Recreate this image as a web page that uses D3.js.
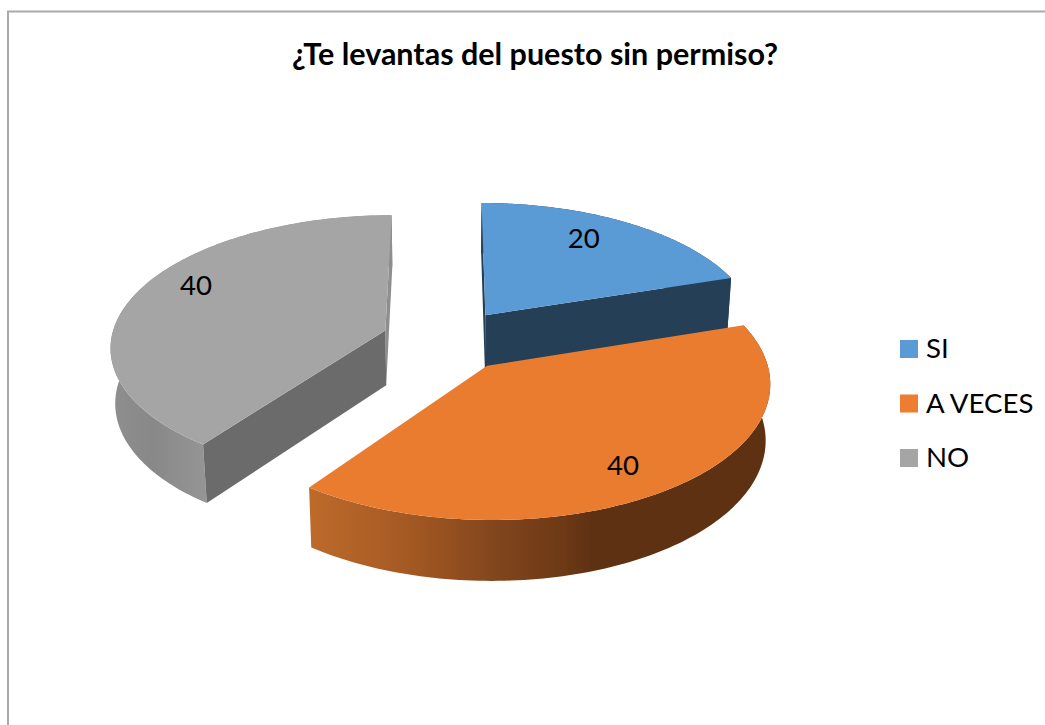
<!DOCTYPE html>
<html><head><meta charset="utf-8">
<style>html,body{margin:0;padding:0;background:#fff;overflow:hidden}svg{display:block}text{font-family:Lato,"Open Sans",sans-serif;fill:#000}</style>
<script src="https://cdn.jsdelivr.net/npm/d3@7"></script>
</head><body><svg id="c" width="1045" height="725"></svg>
<script>
const chartTitle = "¿Te levantas del puesto sin permiso?";
const categories = ["SI", "A VECES", "NO"];
const values = [20, 40, 40];
const topColors = ["#5b9bd5", "#ea7c30", "#a5a5a5"];
const legendColors = ["#5b9bd5", "#ed7d31", "#a5a5a5"];
const faceColors = ["#253f57", "#5f3113", "#6b6b6b"];
const backFaceColors = ["#253f57", "#5f3113", "#8e8e8e"];

const W = 1045, H = 725;
const svg = d3.select("#c");
const defs = svg.append("defs");

// frame
svg.append("path").attr("d", `M8 ${H}V11.5H${W}`).attr("fill","none").attr("stroke","#aaa").attr("stroke-width",2);

// title
svg.append("text").attr("x",535).attr("y",65).attr("text-anchor","middle")
  .attr("font-size",30.5).attr("font-weight",700).text(chartTitle);

// 3D projection of the pie disc (unit radius, z 0 top .. 1 bottom)
const cx = 447.5, cy = 340, A = 274.5, B = 130.3, K = 0.1136, M = 0.014, D = 56, explode = 0.24;
function project(x, y, z) {
  const s = 1 / (1 + K * y + M * z);
  return [cx + A * x * s, cy + (-B * y + D * z) * s];
}
const pie = d3.pie().sort(null).startAngle(0).endAngle(2 * Math.PI);
const arcs = pie(values);
const line = d3.line();

const gradients = [
  null,
  {id:"gOrange", x1:311, x2:771, stops:[[0,"#bd6a2b"],[0.2,"#a65a23"],[0.41,"#80451c"],[0.55,"#6d3916"],[0.61,"#5f3113"],[1,"#5f3113"]]},
  {id:"gGray", x1:110, x2:205, stops:[[0,"#8f8f8f"],[0.45,"#888"],[1,"#959595"]]}
];
gradients.forEach(g => {
  if (!g) return;
  const lg = defs.append("linearGradient").attr("id",g.id).attr("gradientUnits","userSpaceOnUse")
    .attr("x1",g.x1).attr("x2",g.x2).attr("y1",0).attr("y2",0);
  g.stops.forEach(s => lg.append("stop").attr("offset",s[0]).attr("stop-color",s[1]));
});

// draw back to front; each slice: outer wall, visible radial faces, top
const order = [2, 0, 1];
order.forEach(i => {
  const a = arcs[i];
  const mid = (a.startAngle + a.endAngle) / 2;
  const ox = explode * Math.sin(mid), oy = explode * Math.cos(mid);
  const g = svg.append("g");
  const rim = z => d3.range(0, 121).map(t => {
    const ang = a.startAngle + (a.endAngle - a.startAngle) * t / 120;
    return project(ox + Math.sin(ang), oy + Math.cos(ang), z);
  });
  const top = rim(0), bot = rim(1);
  g.append("path").attr("d", line(top.concat(bot.slice().reverse())) + "Z")
    .attr("fill", gradients[i] ? `url(#${gradients[i].id})` : faceColors[i]);
  const cTop = project(ox, oy, 0), cBot = project(ox, oy, 1);
  // a radial face is seen only when it turns toward the viewer
  if (i === 0) {
    g.append("path").attr("d", line([top[0], cTop, cBot, bot[0]]) + "Z").attr("fill", backFaceColors[i]);
    g.append("path").attr("d", line([top[120], cTop, cBot, bot[120]]) + "Z").attr("fill", faceColors[i]);
  } else if (i === 2) {
    g.append("path").attr("d", line([top[120], cTop, cBot, bot[120]]) + "Z").attr("fill", backFaceColors[i]);
    g.append("path").attr("d", line([top[0], cTop, cBot, bot[0]]) + "Z").attr("fill", faceColors[i]);
  }
  g.append("path").attr("d", line([cTop].concat(top)) + "Z").attr("fill", topColors[i]);
});

// data labels, placed on each slice's top face
const labelRadius = [0.778, 0.80, 0.822];
const labelTurn = [-4.7, 3, 8.7];
arcs.forEach((a, i) => {
  const mid = (a.startAngle + a.endAngle) / 2;
  const ox = explode * Math.sin(mid), oy = explode * Math.cos(mid);
  const ang = mid + labelTurn[i] * Math.PI / 180;
  const p = project(ox + labelRadius[i] * Math.sin(ang), oy + labelRadius[i] * Math.cos(ang), 0);
  svg.append("text").attr("x",p[0]).attr("y",p[1]).attr("dy","0.35em").attr("text-anchor","middle")
    .attr("font-size",27.6).text(a.value);
});

// legend
const legendY = d3.scalePoint().domain(categories).range([349, 458]);
const legend = svg.append("g").selectAll("g").data(categories).join("g")
  .attr("transform", d => `translate(900,${legendY(d)})`);
legend.append("rect").attr("x",0).attr("y",-9).attr("width",18).attr("height",18)
  .attr("fill", (d,i) => legendColors[i]);
legend.append("text").attr("x",26).attr("y",9).attr("font-size",27.6).text(d => d);
</script></body></html>
